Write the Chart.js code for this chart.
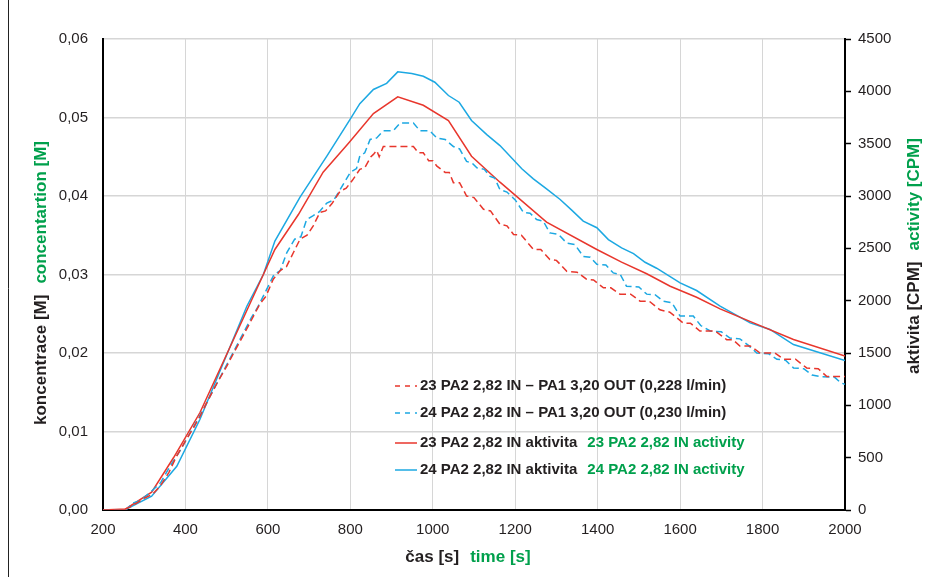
<!DOCTYPE html>
<html>
<head>
<meta charset="utf-8">
<script src="https://cdn.jsdelivr.net/npm/chart.js@4.4.1/dist/chart.umd.min.js"></script>
<style>
  html, body { margin: 0; padding: 0; background: #fff; }
  #wrap { width: 934px; height: 577px; position: relative; }
</style>
</head>
<body>
<div id="wrap"><canvas id="chart" width="934" height="577"></canvas></div>
<script>
// --- Data ---
const xTicks = [200, 400, 600, 800, 1000, 1200, 1400, 1600, 1800, 2000];
const leftTicks = [0, 0.01, 0.02, 0.03, 0.04, 0.05, 0.06];
const rightTicks = [0, 500, 1000, 1500, 2000, 2500, 3000, 3500, 4000, 4500];

// concentration 23 (dashed red), M
const conc23T = [200,250,270,300,320,338,360,379,400,420,435,455,475,500,520,540,565,580,595,613,630,645,662,678,695,710,726,740,755,775,790,805,823,835,850,856,864,870,880,953,965,977,990,1000,1010,1030,1040,1050,1065,1082,1100,1123,1140,1163,1180,1196,1215,1244,1262,1284,1300,1325,1350,1373,1390,1414,1432,1454,1480,1503,1525,1551,1575,1608,1625,1648,1685,1713,1728,1745,1770,1794,1830,1851,1880,1907,1935,1956,2000];
const conc23V = [0,0,0.0005,0.0015,0.002,0.003,0.0048,0.0069,0.0088,0.0105,0.0119,0.014,0.016,0.0183,0.0203,0.0222,0.0247,0.0262,0.0272,0.0294,0.0305,0.031,0.0328,0.0345,0.035,0.0362,0.0379,0.0381,0.039,0.0406,0.041,0.042,0.0434,0.0436,0.045,0.0453,0.0458,0.045,0.0463,0.0463,0.0455,0.0455,0.0445,0.0445,0.0438,0.043,0.043,0.0417,0.0417,0.04,0.0398,0.0383,0.0381,0.0364,0.0362,0.0351,0.035,0.0332,0.0332,0.0319,0.0318,0.0304,0.0303,0.0294,0.0293,0.0283,0.0283,0.0275,0.0275,0.0266,0.0266,0.0255,0.0252,0.0238,0.0238,0.0228,0.0228,0.0217,0.0217,0.0209,0.0209,0.02,0.02,0.0192,0.0192,0.0181,0.018,0.017,0.017];

// concentration 24 (dashed blue), M
const conc24T = [200,255,273,290,314,340,363,390,411,440,468,500,532,560,575,597,615,630,646,665,680,694,710,725,743,760,775,800,815,823,835,848,864,880,904,921,953,969,993,1010,1030,1050,1065,1082,1095,1107,1125,1139,1150,1163,1180,1200,1220,1236,1252,1268,1284,1305,1325,1345,1365,1382,1398,1420,1438,1455,1470,1500,1519,1540,1559,1580,1600,1632,1650,1673,1700,1721,1745,1765,1786,1815,1835,1855,1875,1900,1920,1940,1975,1990,2000];
const conc24V = [0,0,0.0009,0.0012,0.0022,0.0035,0.0056,0.0078,0.0098,0.0125,0.0153,0.0185,0.0217,0.0245,0.0258,0.0281,0.03,0.0305,0.0328,0.0345,0.0348,0.037,0.0375,0.038,0.0391,0.0395,0.0408,0.043,0.0435,0.0451,0.0455,0.0472,0.0474,0.0483,0.0483,0.0493,0.0493,0.0483,0.0483,0.0474,0.0472,0.0463,0.046,0.0444,0.0442,0.0436,0.0434,0.0425,0.0423,0.0408,0.0405,0.0395,0.0379,0.0378,0.037,0.0368,0.0353,0.0351,0.034,0.0338,0.0323,0.0322,0.0313,0.0312,0.0302,0.03,0.0285,0.0284,0.0275,0.0274,0.0266,0.0264,0.0247,0.0247,0.0235,0.0228,0.0227,0.0219,0.0218,0.021,0.02,0.0199,0.0192,0.0191,0.0181,0.018,0.0172,0.017,0.0169,0.0162,0.016];

// activity 23 (solid red), CPM
const act23T = [200,255,318,371,435,589,617,674,734,795,856,915,977,1038,1094,1163,1276,1398,1458,1519,1576,1640,1697,1778,1875,2000];
const act23V = [0,10,170,499,929,2250,2489,2823,3227,3502,3788,3948,3867,3721,3380,3132,2750,2489,2368,2257,2138,2033,1922,1788,1629,1470];

// activity 24 (solid blue), CPM
const act24T = [200,255,318,379,435,549,589,617,678,743,799,823,856,888,915,949,977,1005,1038,1064,1094,1131,1163,1216,1244,1276,1309,1337,1365,1398,1426,1458,1487,1515,1543,1600,1640,1697,1770,1818,1875,2000];
const act24V = [0,5,132,418,865,1947,2250,2569,2989,3381,3730,3882,4018,4076,4186,4170,4144,4087,3960,3896,3721,3587,3482,3260,3164,3068,2967,2865,2760,2697,2584,2504,2450,2367,2310,2170,2097,1947,1788,1725,1581,1428];

const labelsCz = ['23 PA2 2,82 IN – PA1 3,20 OUT (0,228 l/min)', '24 PA2 2,82 IN – PA1 3,20 OUT (0,230 l/min)', '23 PA2 2,82 IN aktivita', '24 PA2 2,82 IN aktivita'];
const labelsEn = ['', '', '23 PA2 2,82 IN activity', '24 PA2 2,82 IN activity'];

// --- Styles ---
const RED = '#e8362c', BLUE = '#1ca8e2', GREEN = '#00a04c', INK = '#231f20';
const FONT = '"Liberation Sans", Arial, sans-serif';
const zip = (t, v) => t.map((x, i) => ({ x, y: v[i] }));

// axis titles and legend have two colours, so they are drawn here
const textPlugin = {
  id: 'texts',
  afterDraw(chart) {
    const ctx = chart.ctx;
    const pair = (a, b, cx, cy, rot) => {
      ctx.save();
      ctx.translate(cx, cy);
      ctx.rotate(rot);
      ctx.font = 'bold 17px ' + FONT;
      ctx.textBaseline = 'middle';
      const gap = 11;
      const wa = ctx.measureText(a).width, wb = ctx.measureText(b).width;
      let x = -(wa + gap + wb) / 2;
      ctx.fillStyle = INK; ctx.fillText(a, x, 0);
      ctx.fillStyle = GREEN; ctx.fillText(b, x + wa + gap, 0);
      ctx.restore();
    };
    pair('koncentrace [M]', 'concentartion [M]', 41, 283, -Math.PI / 2);
    pair('aktivita [CPM]', 'activity [CPM]', 914, 256, -Math.PI / 2);
    pair('čas [s]', 'time [s]', 468, 557, 0);

    // legend
    const rows = [386, 413, 443, 470];
    ctx.save();
    ctx.font = 'bold 15px ' + FONT;
    ctx.textBaseline = 'middle';
    chart.data.datasets.forEach((ds, i) => {
      const y = rows[i];
      ctx.strokeStyle = ds.borderColor;
      ctx.lineWidth = 1.5;
      ctx.setLineDash(ds.borderDash.length ? [5, 5] : []);
      ctx.beginPath(); ctx.moveTo(395, y); ctx.lineTo(417, y); ctx.stroke();
      ctx.setLineDash([]);
      ctx.fillStyle = INK;
      ctx.fillText(labelsCz[i], 420, y);
      if (labelsEn[i]) {
        const w = ctx.measureText(labelsCz[i]).width;
        ctx.fillStyle = GREEN;
        ctx.fillText(labelsEn[i], 420 + w + 10, y);
      }
    });
    ctx.restore();

    // thin rule along the left edge of the figure
    ctx.save();
    ctx.strokeStyle = '#222';
    ctx.lineWidth = 1;
    ctx.beginPath(); ctx.moveTo(8.5, 0); ctx.lineTo(8.5, 577); ctx.stroke();
    ctx.restore();
  }
};

const line = (data, color, dash, axis) => ({
  data, borderColor: color, borderWidth: 1.5, borderDash: dash,
  pointRadius: 0, tension: 0, fill: false, yAxisID: axis
});

const tickFont = { family: FONT, size: 15 };

new Chart(document.getElementById('chart'), {
  type: 'line',
  data: {
    datasets: [
      line(zip(conc23T, conc23V), RED, [7, 4], 'y'),
      line(zip(conc24T, conc24V), BLUE, [7, 4], 'y'),
      line(zip(act23T, act23V), RED, [], 'y1'),
      line(zip(act24T, act24V), BLUE, [], 'y1')
    ]
  },
  options: {
    responsive: false,
    animation: false,
    layout: { padding: { top: 39, left: 0, right: 0, bottom: 0 } },
    plugins: { legend: { display: false }, tooltip: { enabled: false } },
    scales: {
      x: {
        type: 'linear', min: 200, max: 2000,
        afterBuildTicks: s => { s.ticks = xTicks.map(v => ({ value: v })); },
        afterFit: s => { s.height = 67; },
        grid: { color: '#d6d6d6', lineWidth: 1, drawTicks: false },
        border: { color: '#000', width: 2 },
        ticks: { padding: 11, color: INK, font: tickFont, callback: v => String(v) }
      },
      y: {
        position: 'left', min: 0, max: 0.06,
        afterBuildTicks: s => { s.ticks = leftTicks.map(v => ({ value: v })); },
        afterFit: s => { s.width = 103; },
        grid: { color: '#d6d6d6', lineWidth: 1.5, drawTicks: false },
        border: { color: '#000', width: 2 },
        ticks: { padding: 15, color: INK, font: tickFont,
          callback: v => v.toFixed(2).replace('.', ',') }
      },
      y1: {
        position: 'right', min: 0, max: 4500,
        afterBuildTicks: s => { s.ticks = rightTicks.map(v => ({ value: v })); },
        afterFit: s => { s.width = 89; },
        grid: { drawOnChartArea: false, color: '#000', tickLength: 6, tickWidth: 1.5 },
        border: { color: '#000', width: 2 },
        ticks: { padding: 7, color: INK, font: tickFont, callback: v => String(v) }
      }
    }
  },
  plugins: [textPlugin]
});
</script>
</body>
</html>
